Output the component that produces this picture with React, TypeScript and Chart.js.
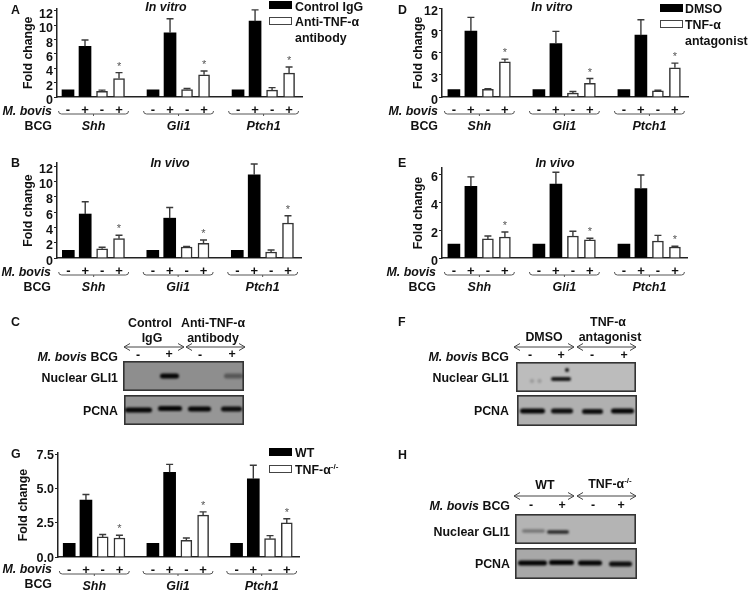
import React, { useEffect, useRef } from "react";
import { Chart, registerables } from "chart.js";

Chart.register(...registerables);

const FONT = '"Liberation Sans", Arial, sans-serif';

// Bar chart data
const genes = ["Shh", "Gli1", "Ptch1"];
const geneCentres = [1.5, 6.5, 11.5];
const solidSlots = [0, 1, 5, 6, 10, 11];
const openSlots = [2, 3, 7, 8, 12, 13];
const slotSigns = ["-", "+", "-", "+", "", "-", "+", "-", "+", "", "-", "+", "-", "+"];
const signSlots = [0, 1, 2, 3, 5, 6, 7, 8, 10, 11, 12, 13];

const aSolid = [1, 7.07, 1, 8.95, 1, 10.57];
const aSolidErr = [0, 0.88, 0, 1.95, 0, 1.57];
const aOpen = [0.8, 2.58, 1.05, 3.1, 0.96, 3.32];
const aOpenErr = [0.16, 0.82, 0.13, 0.52, 0.34, 0.87];

const bSolid = [1, 5.74, 1, 5.2, 1, 10.87];
const bSolidErr = [0, 1.61, 0, 1.4, 0, 1.39];
const bOpen = [1.2, 2.52, 1.43, 1.91, 0.78, 4.57];
const bOpenErr = [0.2, 0.44, 0.09, 0.44, 0.26, 0.95];

const dSolid = [1, 8.95, 1, 7.24, 1, 8.38];
const dSolidErr = [0, 1.85, 0, 1.66, 0, 2.1];
const dOpen = [1.05, 4.78, 0.53, 1.84, 0.83, 3.95];
const dOpenErr = [0.09, 0.35, 0.22, 0.66, 0.09, 0.65];

const eSolid = [1, 5.16, 1, 5.32, 1, 4.99];
const eSolidErr = [0, 0.67, 0, 0.84, 0, 0.98];
const eOpen = [1.37, 1.51, 1.58, 1.3, 1.22, 0.79];
const eOpenErr = [0.21, 0.36, 0.34, 0.12, 0.41, 0.05];

const gSolid = [1, 4.16, 1, 6.19, 1, 5.72];
const gSolidErr = [0, 0.41, 0, 0.58, 0, 0.98];
const gOpen = [1.47, 1.39, 1.22, 3.06, 1.34, 2.49];
const gOpenErr = [0.17, 0.2, 0.17, 0.24, 0.22, 0.3];

const ticks12by2 = [0, 2, 4, 6, 8, 10, 12];
const ticks12by3 = [0, 3, 6, 9, 12];
const ticks6 = [0, 2, 4, 6];
const ticks75 = [0, 2.5, 5, 7.5];

// Western blot bands (blot-local units)
const gli1CStart = [37, 101];
const gli1CEnd = [56, 120];
const gli1CLevel = [15, 15];
const gli1CStrength = [1, 0.4];
const pcnaCStart = [1, 34, 64, 97];
const pcnaCEnd = [28, 58, 87, 118];
const pcnaCLevel = [15, 13.5, 14, 14];
const pcnaCStrength = [1, 1, 1, 0.95];

const gli1FStart = [35, 49, 15, 22];
const gli1FEnd = [55, 53, 17, 25];
const gli1FLevel = [17, 8, 19, 19];
const gli1FStrength = [0.9, 0.95, 0.2, 0.2];
const pcnaFStart = [3, 34, 65, 94];
const pcnaFEnd = [28, 56, 86, 117];
const pcnaFLevel = [16, 16, 16.5, 16];
const pcnaFStrength = [1, 0.95, 0.95, 1];

const gli1HStart = [7, 32];
const gli1HEnd = [30, 54];
const gli1HLevel = [17, 18];
const gli1HStrength = [0.35, 0.8];
const pcnaHStart = [3, 34, 63, 94];
const pcnaHEnd = [32, 59, 87, 117];
const pcnaHLevel = [15, 14.5, 15, 16];
const pcnaHStrength = [1, 1, 1, 0.95];

type Panel = {
  left: number; top: number; axisX: number; zeroY: number; axisTop: number; axisEnd: number;
  xMin: number; xMax: number; yMax: number; yTicks: number[]; decimals: number;
  solid: number[]; solidErr: number[]; open: number[]; openErr: number[];
  titlePad: number; labelOffset: number;
};

function BarPanel({ p }: { p: Panel }) {
  const ref = useRef<HTMLCanvasElement | null>(null);
  const w = p.axisEnd + 12;
  const h = p.zeroY + 38;
  useEffect(() => {
    const errs = [p.solidErr, p.openErr];
    const marks = {
      id: "marks",
      afterDatasetsDraw(chart: any) {
        const { ctx, scales } = chart;
        const x = scales.x;
        const y = scales.y;
        ctx.save();
        ctx.strokeStyle = "#3a3a3a";
        ctx.lineWidth = 1.4;
        chart.data.datasets.forEach((ds: any, di: number) => {
          ds.data.forEach((pt: any, i: number) => {
            const err = errs[di][i];
            if (!err) return;
            const px = x.getPixelForValue(pt.x);
            const y0 = y.getPixelForValue(pt.y);
            const y1 = y.getPixelForValue(pt.y + err);
            ctx.beginPath();
            ctx.moveTo(px, y0);
            ctx.lineTo(px, y1);
            ctx.moveTo(px - 3.5, y1);
            ctx.lineTo(px + 3.5, y1);
            ctx.stroke();
            if (di === 1 && i % 2 === 1) {
              ctx.fillStyle = "#555";
              ctx.font = `11px ${FONT}`;
              ctx.textAlign = "center";
              ctx.textBaseline = "alphabetic";
              ctx.fillText("*", px, y1 - 3);
            }
          });
        });
        // group braces and gene names
        const baseY = p.zeroY + 17;
        ctx.strokeStyle = "#555";
        ctx.lineWidth = 1;
        geneCentres.forEach((c, i) => {
          const cx = x.getPixelForValue(c);
          const l = cx - 35;
          const r = cx + 35;
          ctx.beginPath();
          ctx.moveTo(l, baseY - 3);
          ctx.quadraticCurveTo(l, baseY, l + 3, baseY);
          ctx.lineTo(r - 3, baseY);
          ctx.quadraticCurveTo(r, baseY, r, baseY - 3);
          ctx.moveTo(cx, baseY);
          ctx.lineTo(cx, baseY + 2);
          ctx.stroke();
          ctx.fillStyle = "#111";
          ctx.font = `italic bold 12.5px ${FONT}`;
          ctx.textAlign = "center";
          ctx.textBaseline = "middle";
          ctx.fillText(genes[i], cx, p.zeroY + 30);
        });
        ctx.restore();
      },
    };
    const chart = new Chart(ref.current as HTMLCanvasElement, {
      type: "bar",
      data: {
        datasets: [
          {
            data: solidSlots.map((s, i) => ({ x: s, y: p.solid[i] })),
            backgroundColor: "#000",
            borderWidth: 0,
            barThickness: 12,
            grouped: false,
          },
          {
            data: openSlots.map((s, i) => ({ x: s, y: p.open[i] })),
            backgroundColor: "#fff",
            borderColor: "#333",
            borderWidth: 1.5,
            barThickness: 11,
            grouped: false,
          },
        ],
      },
      options: {
        animation: false,
        responsive: false,
        devicePixelRatio: 1,
        layout: { padding: { top: p.axisTop, right: w - p.axisEnd, left: 0, bottom: 0 } },
        plugins: { legend: { display: false }, tooltip: { enabled: false } },
        scales: {
          x: {
            type: "linear",
            offset: false,
            min: p.xMin,
            max: p.xMax,
            grid: { display: false, offset: false },
            border: { display: true, color: "#222", width: 1.5 },
            afterBuildTicks: (s: any) => { s.ticks = signSlots.map((v) => ({ value: v })); },
            afterFit: (s: any) => { s.height = h - p.zeroY; },
            ticks: {
              autoSkip: false,
              maxRotation: 0,
              padding: -2,
              color: "#111",
              font: { family: FONT, weight: "bold", size: 13 },
              callback: (v: any) => slotSigns[v as number] ?? "",
            },
          },
          y: {
            min: 0,
            max: p.yMax,
            grid: { drawOnChartArea: false, drawTicks: true, tickLength: 3, color: "#222", lineWidth: 1 },
            border: { display: true, color: "#222", width: 1.5 },
            afterBuildTicks: (s: any) => { s.ticks = p.yTicks.map((v) => ({ value: v })); },
            afterFit: (s: any) => { s.width = p.axisX; },
            title: {
              display: true,
              text: "Fold change",
              color: "#111",
              font: { family: FONT, weight: "bold", size: 12.3 },
              padding: { top: p.titlePad, bottom: 0 },
            },
            ticks: {
              autoSkip: false,
              padding: 1,
              labelOffset: p.labelOffset,
              color: "#111",
              font: { family: FONT, weight: "bold", size: 12.5 },
              callback: (v: any) => Number(v).toFixed(p.decimals),
            },
          },
        },
      },
      plugins: [marks],
    } as any);
    return () => chart.destroy();
  }, []);
  return (
    <canvas ref={ref} width={w} height={h} style={{ position: "absolute", left: p.left, top: p.top }} />
  );
}

type Blot = {
  left: number; top: number; width: number; height: number; shade: string;
  start: number[]; end: number[]; level: number[]; strength: number[]; band: number;
};

function BlotPanel({ b }: { b: Blot }) {
  const ref = useRef<HTMLCanvasElement | null>(null);
  useEffect(() => {
    const film = {
      id: "film",
      beforeDraw(chart: any) {
        const { ctx, width, height } = chart;
        ctx.save();
        ctx.fillStyle = b.shade;
        ctx.fillRect(0, 0, width, height);
        ctx.strokeStyle = "#333";
        ctx.lineWidth = 1.6;
        ctx.strokeRect(0.8, 0.8, width - 1.6, height - 1.6);
        ctx.restore();
      },
      beforeDatasetsDraw(chart: any) {
        chart.ctx.save();
        chart.ctx.filter = "blur(0.8px)";
      },
      afterDatasetsDraw(chart: any) {
        chart.ctx.restore();
      },
    };
    const chart = new Chart(ref.current as HTMLCanvasElement, {
      type: "line",
      data: {
        datasets: b.start.map((s, i) => {
          const inset = Math.min(b.band / 2, (b.end[i] - s) / 2);
          return {
            data: [{ x: s + inset, y: b.level[i] }, { x: b.end[i] - inset, y: b.level[i] }],
            borderColor: `rgba(5,5,5,${b.strength[i]})`,
            borderWidth: b.band,
            borderCapStyle: "round",
            pointRadius: 0,
          };
        }),
      },
      options: {
        animation: false,
        responsive: false,
        devicePixelRatio: 1,
        layout: { padding: 0 },
        plugins: { legend: { display: false }, tooltip: { enabled: false } },
        scales: {
          x: { type: "linear", display: false, min: 0, max: b.width },
          y: { type: "linear", display: false, min: 0, max: b.height, reverse: true },
        },
      },
      plugins: [film],
    } as any);
    return () => chart.destroy();
  }, []);
  return (
    <canvas ref={ref} width={b.width} height={b.height} style={{ position: "absolute", left: b.left, top: b.top }} />
  );
}

const panels: Panel[] = [
  { left: 0, top: 0, axisX: 57, zeroY: 97, axisTop: 3, axisEnd: 302, xMin: -0.647, xMax: 13.76, yMax: 12.33, yTicks: ticks12by2, decimals: 0, solid: aSolid, solidErr: aSolidErr, open: aOpen, openErr: aOpenErr, titlePad: 21, labelOffset: 3.5 },
  { left: 0, top: 150, axisX: 57, zeroY: 108, axisTop: 13, axisEnd: 301, xMin: -0.67, xMax: 13.77, yMax: 12.4, yTicks: ticks12by2, decimals: 0, solid: bSolid, solidErr: bSolidErr, open: bOpen, openErr: bOpenErr, titlePad: 21, labelOffset: 3.3 },
  { left: 375, top: 0, axisX: 67, zeroY: 97, axisTop: 6, axisEnd: 313, xMin: -0.7, xMax: 13.77, yMax: 12, yTicks: ticks12by3, decimals: 0, solid: dSolid, solidErr: dSolidErr, open: dOpen, openErr: dOpenErr, titlePad: 36, labelOffset: 3.5 },
  { left: 375, top: 150, axisX: 67, zeroY: 108, axisTop: 18, axisEnd: 312, xMin: -0.7, xMax: 13.71, yMax: 6.47, yTicks: ticks6, decimals: 0, solid: eSolid, solidErr: eSolidErr, open: eOpen, openErr: eOpenErr, titlePad: 36, labelOffset: 3.3 },
  { left: 0, top: 435, axisX: 58, zeroY: 122, axisTop: 18, axisEnd: 299, xMin: -0.67, xMax: 13.73, yMax: 7.6, yTicks: ticks75, decimals: 1, solid: gSolid, solidErr: gSolidErr, open: gOpen, openErr: gOpenErr, titlePad: 16, labelOffset: 1.2 },
];

const blots: Blot[] = [
  { left: 123, top: 361, width: 121, height: 30, shade: "#8e8e8e", start: gli1CStart, end: gli1CEnd, level: gli1CLevel, strength: gli1CStrength, band: 5 },
  { left: 124, top: 395, width: 120, height: 30, shade: "#969696", start: pcnaCStart, end: pcnaCEnd, level: pcnaCLevel, strength: pcnaCStrength, band: 5 },
  { left: 516, top: 362, width: 120, height: 30, shade: "#bcbcbc", start: gli1FStart, end: gli1FEnd, level: gli1FLevel, strength: gli1FStrength, band: 4 },
  { left: 517, top: 395, width: 120, height: 31, shade: "#b0b0b0", start: pcnaFStart, end: pcnaFEnd, level: pcnaFLevel, strength: pcnaFStrength, band: 5 },
  { left: 515, top: 514, width: 121, height: 30, shade: "#b4b4b4", start: gli1HStart, end: gli1HEnd, level: gli1HLevel, strength: gli1HStrength, band: 3.5 },
  { left: 515, top: 548, width: 122, height: 31, shade: "#a8a8a8", start: pcnaHStart, end: pcnaHEnd, level: pcnaHLevel, strength: pcnaHStrength, band: 5 },
];

function T({ x, y, a = "l", i = false, w = "bold", s = 12.4, children }: any) {
  const tx = a === "c" ? "-50%" : a === "r" ? "-100%" : "0";
  return (
    <div
      style={{
        position: "absolute", left: x, top: y, transform: `translate(${tx},-50%)`,
        fontFamily: FONT, fontSize: s, fontWeight: w, fontStyle: i ? "italic" : "normal",
        color: "#111", whiteSpace: "nowrap", lineHeight: 1,
      }}
    >
      {children}
    </div>
  );
}

function Swatch({ x, y, open = false }: any) {
  return (
    <div
      style={{
        position: "absolute", left: x, top: y, width: 21, height: 6, boxSizing: "content-box",
        background: open ? "#fff" : "#000", border: open ? "1px solid #444" : "1px solid #000",
      }}
    />
  );
}

function Bovis({ x, y }: any) {
  return (
    <T x={x} y={y} a="r"><i>M. bovis</i></T>
  );
}

function BovisBCG({ x, y }: any) {
  return (
    <T x={x} y={y} a="r"><i>M. bovis</i> BCG</T>
  );
}

function Arrow({ x1, x2, y }: any) {
  return (
    <path
      d={`M${x1},${y}H${x2}M${x1 + 6},${y - 3.5}L${x1},${y}L${x1 + 6},${y + 3.5}M${x2 - 6},${y - 3.5}L${x2},${y}L${x2 - 6},${y + 3.5}`}
      fill="none" stroke="#444" strokeWidth="1"
    />
  );
}

const TNF = () => <>TNF-α<sup style={{ fontSize: 8, lineHeight: 0 }}>-/-</sup></>;

export default function App() {
  return (
    <div style={{ position: "absolute", left: 0, top: 0, width: 750, height: 591, overflow: "hidden", background: "#fff", filter: "blur(0.35px)" }}>
      {panels.map((p, i) => <BarPanel key={i} p={p} />)}
      {blots.map((b, i) => <BlotPanel key={i} b={b} />)}

      <svg width={750} height={591} style={{ position: "absolute", left: 0, top: 0, pointerEvents: "none" }}>
        <Arrow x1={124} x2={184} y={347} />
        <Arrow x1={186} x2={245} y={347} />
        <Arrow x1={514} x2={574} y={347} />
        <Arrow x1={577} x2={636} y={347} />
        <Arrow x1={514} x2={574} y={496} />
        <Arrow x1={577} x2={636} y={496} />
      </svg>

      <T x={11} y={10}>A</T>
      <T x={11} y={163}>B</T>
      <T x={11} y={322}>C</T>
      <T x={398} y={10}>D</T>
      <T x={398} y={163}>E</T>
      <T x={398} y={322}>F</T>
      <T x={11} y={454}>G</T>
      <T x={398} y={455}>H</T>

      <T x={166} y={7} a="c" i>In vitro</T>
      <T x={552} y={7} a="c" i>In vitro</T>
      <T x={170} y={163} a="c" i>In vivo</T>
      <T x={555} y={163} a="c" i>In vivo</T>

      <Bovis x={52} y={111} /><T x={52} y={126} a="r">BCG</T>
      <Bovis x={51} y={272} /><T x={51} y={287} a="r">BCG</T>
      <Bovis x={438} y={111} /><T x={438} y={126} a="r">BCG</T>
      <Bovis x={436} y={272} /><T x={436} y={287} a="r">BCG</T>
      <Bovis x={52} y={569} /><T x={52} y={584} a="r">BCG</T>

      <Swatch x={269} y={1} />
      <T x={295} y={7}>Control IgG</T>
      <Swatch x={269} y={17} open />
      <T x={295} y={22}>Anti-TNF-α</T>
      <T x={295} y={38}>antibody</T>

      <Swatch x={660} y={4} />
      <T x={685} y={9}>DMSO</T>
      <Swatch x={660} y={20} open />
      <T x={685} y={25}>TNF-α</T>
      <T x={685} y={41}>antagonist</T>

      <Swatch x={269} y={448} />
      <T x={295} y={453}>WT</T>
      <Swatch x={269} y={465} open />
      <T x={295} y={470}><TNF /></T>

      <T x={150} y={323} a="c">Control</T>
      <T x={152} y={338} a="c">IgG</T>
      <T x={213} y={323} a="c">Anti-TNF-α</T>
      <T x={213} y={338} a="c">antibody</T>
      <T x={138} y={355} a="c">-</T><T x={169} y={354} a="c">+</T>
      <T x={200} y={355} a="c">-</T><T x={232} y={354} a="c">+</T>
      <BovisBCG x={118} y={357} />
      <T x={118} y={378} a="r">Nuclear GLI1</T>
      <T x={118} y={411} a="r">PCNA</T>

      <T x={544} y={337} a="c">DMSO</T>
      <T x={608} y={322} a="c">TNF-α</T>
      <T x={610} y={337} a="c">antagonist</T>
      <T x={530} y={355} a="c">-</T><T x={561} y={355} a="c">+</T>
      <T x={592} y={355} a="c">-</T><T x={624} y={355} a="c">+</T>
      <BovisBCG x={509} y={357} />
      <T x={509} y={378} a="r">Nuclear GLI1</T>
      <T x={509} y={411} a="r">PCNA</T>

      <T x={545} y={485} a="c">WT</T>
      <T x={610} y={484} a="c"><TNF /></T>
      <T x={531} y={505} a="c">-</T><T x={562} y={505} a="c">+</T>
      <T x={593} y={505} a="c">-</T><T x={621} y={505} a="c">+</T>
      <BovisBCG x={510} y={506} />
      <T x={510} y={532} a="r">Nuclear GLI1</T>
      <T x={510} y={564} a="r">PCNA</T>
    </div>
  );
}
